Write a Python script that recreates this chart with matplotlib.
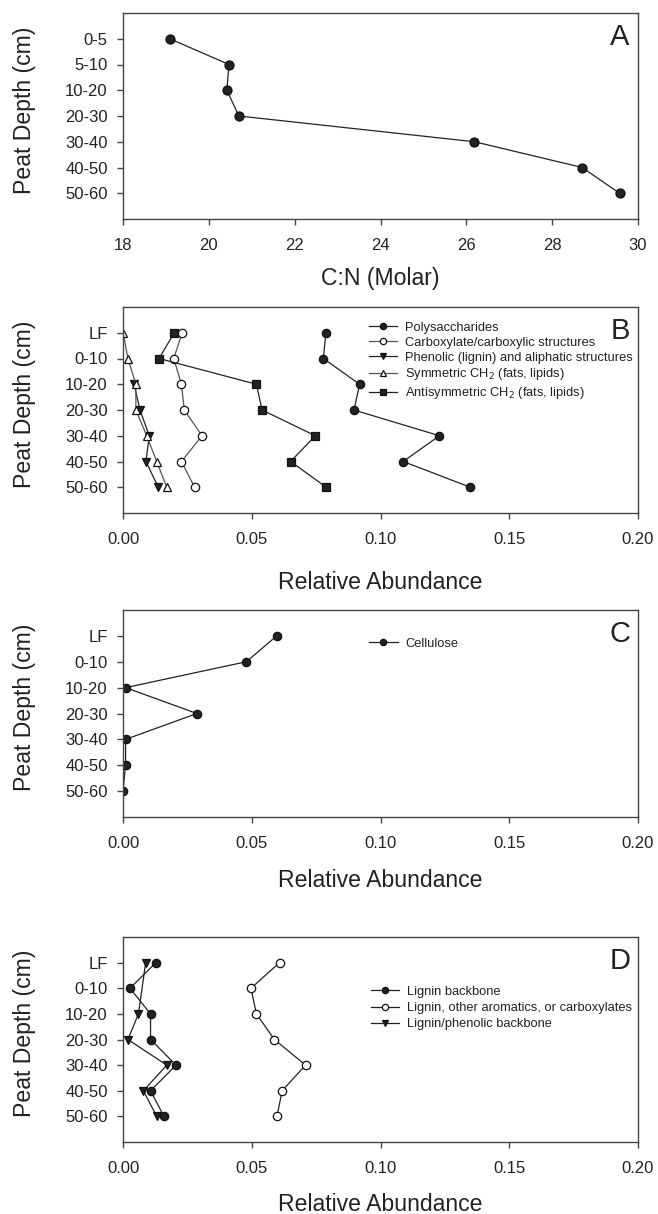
import numpy as np
import matplotlib
matplotlib.use("Agg")
import matplotlib.pyplot as plt

plt.rcParams['font.family'] = ['Liberation Sans', 'DejaVu Sans']

# ---------------- data ----------------
depth_A = ['0-5', '5-10', '10-20', '20-30', '30-40', '40-50', '50-60']
cn_molar = [19.09, 20.47, 20.42, 20.70, 26.19, 28.70, 29.57]

depth_B = ['LF', '0-10', '10-20', '20-30', '30-40', '40-50', '50-60']
polysaccharides = [0.0788, 0.0778, 0.0919, 0.0897, 0.1229, 0.1088, 0.1349]
carboxylate = [0.0230, 0.0197, 0.0227, 0.0238, 0.0307, 0.0227, 0.0278]
phenolic = [np.nan, np.nan, 0.0043, 0.0066, 0.0102, 0.0089, 0.0137]
sym_ch2 = [0.0001, 0.0019, 0.0050, 0.0050, 0.0092, 0.0131, 0.0170]
antisym_ch2 = [0.0199, 0.0140, 0.0518, 0.0540, 0.0747, 0.0651, 0.0789]

cellulose = [0.0597, 0.0479, 0.0010, 0.0287, 0.0010, 0.0010, 0.0000]

lignin_backbone = [0.0128, 0.0027, 0.0107, 0.0107, 0.0206, 0.0107, 0.0159]
lignin_other = [0.0608, 0.0497, 0.0518, 0.0588, 0.0709, 0.0618, 0.0598]
lignin_phenolic = [0.0088, np.nan, 0.0060, 0.0019, 0.0170, 0.0079, 0.0131]

labels_B = ['Polysaccharides', 'Carboxylate/carboxylic structures',
            'Phenolic (lignin) and aliphatic structures',
            'Symmetric CH$_2$ (fats, lipids)', 'Antisymmetric CH$_2$ (fats, lipids)']
labels_C = ['Cellulose']
labels_D = ['Lignin backbone', 'Lignin, other aromatics, or carboxylates',
            'Lignin/phenolic backbone']

# ---------------- styling ----------------
W, H = 658, 1214
fig = plt.figure(figsize=(W / 100, H / 100), dpi=100)

TXT = '#222222'
SP = '#444444'
LC = '#222222'
LC2 = '#555555'


def frac_box(top, bottom, left=123, right=638):
    return [left / W, 1 - bottom / H, (right - left) / W, (bottom - top) / H]


def style(ax, xlabel, xpad):
    for s in ax.spines.values():
        s.set_color(SP)
        s.set_linewidth(1.0)
    ax.tick_params(axis='both', colors=SP, labelcolor=TXT, labelsize=12,
                   length=4, width=1.0, direction='out')
    ax.tick_params(axis='y', pad=7)
    ax.tick_params(axis='x', pad=10)
    ax.set_ylabel('Peat Depth (cm)', fontsize=16.6, color=TXT)
    ax.yaxis.set_label_coords(-0.169, 0.53)
    ax.set_xlabel(xlabel, fontsize=16.6, color=TXT, labelpad=xpad)
    ax.set_ylim(7, -1)


def plot_series(ax, vals, cats, marker, filled, color, label, ms=6):
    v = np.asarray(vals, dtype=float)
    c = np.asarray(cats)
    m = ~np.isnan(v)
    ax.plot(v[m], c[m], marker=marker, color=color, lw=0.9, ms=ms,
            mfc=(color if filled else 'white'), mec='#111111', mew=0.9,
            label=label)


def panel_letter(ax, letter):
    ax.text(0.965, 0.885, letter, transform=ax.transAxes, fontsize=21,
            ha='center', va='center', color=TXT)


def legend(ax, x, y, spacing=0.25):
    ax.legend(loc='upper left', bbox_to_anchor=(x, y), frameon=False,
              fontsize=9.3, handlelength=2.2, handletextpad=0.6,
              labelspacing=spacing, borderpad=0, borderaxespad=0,
              markerscale=0.75, labelcolor=TXT)


# ---------------- Panel A ----------------
axA = fig.add_axes(frac_box(13, 219))
plot_series(axA, cn_molar, depth_A, 'o', True, LC, None, ms=6.5)
axA.set_xlim(18, 30)
axA.set_xticks([18, 20, 22, 24, 26, 28, 30])
style(axA, 'C:N (Molar)', 10)
panel_letter(axA, 'A')

# ---------------- Panel B ----------------
axB = fig.add_axes(frac_box(307, 513))
plot_series(axB, polysaccharides, depth_B, 'o', True, LC, labels_B[0])
plot_series(axB, carboxylate, depth_B, 'o', False, LC2, labels_B[1])
plot_series(axB, phenolic, depth_B, 'v', True, LC, labels_B[2])
plot_series(axB, sym_ch2, depth_B, '^', False, LC2, labels_B[3])
plot_series(axB, antisym_ch2, depth_B, 's', True, LC, labels_B[4], ms=5.8)
axB.set_xlim(0, 0.20)
axB.set_xticks([0, 0.05, 0.10, 0.15, 0.20])
axB.set_xticklabels(['0.00', '0.05', '0.10', '0.15', '0.20'])
style(axB, 'Relative Abundance', 17)
panel_letter(axB, 'B')
legend(axB, 0.477, 0.928, spacing=0.22)

# ---------------- Panel C ----------------
axC = fig.add_axes(frac_box(610, 817))
plot_series(axC, cellulose, depth_B, 'o', True, LC, labels_C[0])
axC.set_xlim(0, 0.20)
axC.set_xticks([0, 0.05, 0.10, 0.15, 0.20])
axC.set_xticklabels(['0.00', '0.05', '0.10', '0.15', '0.20'])
style(axC, 'Relative Abundance', 12.5)
panel_letter(axC, 'C')
legend(axC, 0.478, 0.866)

# ---------------- Panel D ----------------
axD = fig.add_axes(frac_box(937, 1142))
plot_series(axD, lignin_backbone, depth_B, 'o', True, LC, labels_D[0])
plot_series(axD, lignin_other, depth_B, 'o', False, LC, labels_D[1])
plot_series(axD, lignin_phenolic, depth_B, 'v', True, LC, labels_D[2])
axD.set_xlim(0, 0.20)
axD.set_xticks([0, 0.05, 0.10, 0.15, 0.20])
axD.set_xticklabels(['0.00', '0.05', '0.10', '0.15', '0.20'])
style(axD, 'Relative Abundance', 12)
panel_letter(axD, 'D')
legend(axD, 0.481, 0.762, spacing=0.33)

fig.savefig('out.png', dpi=100)
